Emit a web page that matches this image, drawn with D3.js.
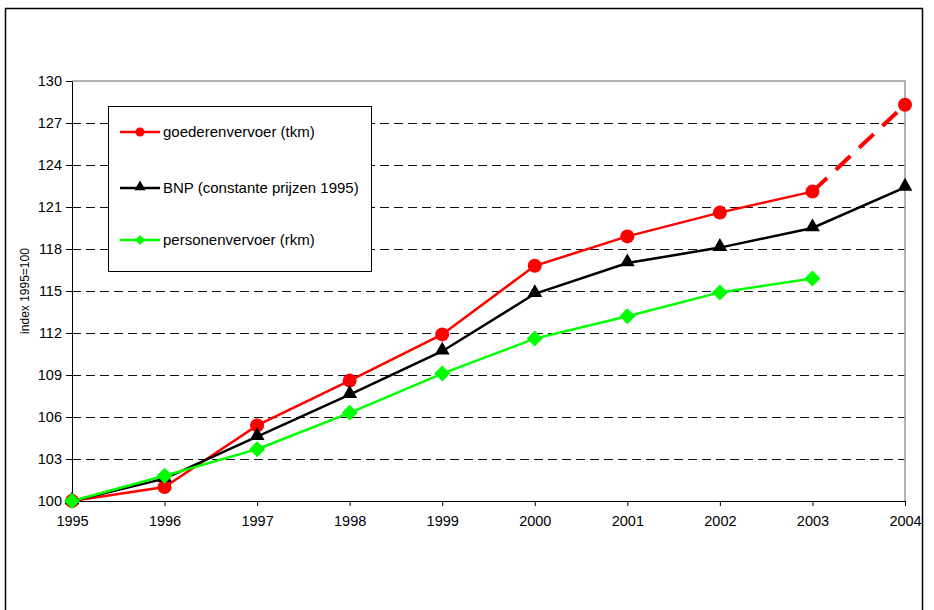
<!DOCTYPE html>
<html>
<head>
<meta charset="utf-8">
<script src="https://cdn.jsdelivr.net/npm/d3@7"></script>
<style>
body{margin:0;background:#fff;}
text{font-family:"Liberation Sans",Arial,sans-serif;}
</style>
</head>
<body>
<div id="chart"></div>
<script>

const years=[1995,1996,1997,1998,1999,2000,2001,2002,2003,2004];
const yTicks=[100,103,106,109,112,115,118,121,124,127,130];

const goederen=[100,101.0,105.4,108.6,111.9,116.8,118.9,120.6,122.1,128.3];
const bnp=[100,101.6,104.6,107.6,110.7,114.8,117.0,118.1,119.5,122.4];
const personen=[100,101.8,103.7,106.3,109.1,111.6,113.2,114.9,115.9];

const labels=["goederenvervoer (tkm)","BNP (constante prijzen 1995)","personenvervoer (rkm)"];

const W=934,H=610;
const plotLeft=72,plotRight=905,plotTop=81,plotBottom=501;

const svg=d3.select("#chart")
    .append("svg")
    .attr("width",W)
    .attr("height",H);

// outer frame
svg.append("rect")
    .attr("x",5.5)
    .attr("y",8.5)
    .attr("width",917)
    .attr("height",H)
    .attr("fill","white")
    .attr("stroke","black")
    .attr("stroke-width",1.5);

const x=d3.scaleLinear().domain([1995,2004]).range([plotLeft,plotRight]);
const y=d3.scaleLinear().domain([100,130]).range([plotBottom,plotTop]);

// grid
svg.selectAll(".grid")
    .data(yTicks.filter(d=>d>100&&d<130))
    .enter()
    .append("line")
    .attr("class","grid")
    .attr("x1",plotLeft)
    .attr("x2",plotRight)
    .attr("y1",d=>Math.round(y(d))+0.5)
    .attr("y2",d=>Math.round(y(d))+0.5)
    .attr("stroke","#111")
    .attr("stroke-dasharray","9,5");

// plot area top and right border
svg.append("path")
    .attr("d",`M${plotLeft},${y(130)}H${plotRight}V${plotBottom}`)
    .attr("fill","none")
    .attr("stroke","#999")
    .attr("stroke-width",1.5);

// axes
const yAxis=d3.axisLeft(y).tickValues(yTicks).tickSize(6).tickSizeOuter(0);
const gy=svg.append("g").attr("transform",`translate(${plotLeft},0)`).call(yAxis);
gy.select(".domain").attr("stroke","black");
gy.selectAll("text").attr("font-size",14.5).attr("fill","black").attr("x",-10);

const xAxis=d3.axisBottom(x).tickValues(years).tickFormat(d3.format("d")).tickSize(5).tickSizeOuter(0);
const gx=svg.append("g").attr("transform",`translate(0,${plotBottom})`).call(xAxis);
gx.select(".domain").attr("stroke","black");
gx.selectAll("text").attr("font-size",14.5).attr("fill","black").attr("y",15);

svg.append("text")
    .attr("transform",`translate(29,${(plotTop+plotBottom)/2}) rotate(-90)`)
    .attr("text-anchor","middle")
    .attr("font-size",12)
    .text("index 1995=100");

const line=d3.line().x(d=>x(d[0])).y(d=>y(d[1]));

const redPts=goederen.map((v,i)=>[years[i],v]);
const blackPts=bnp.map((v,i)=>[years[i],v]);
const greenPts=personen.map((v,i)=>[years[i],v]);

// red: solid until 2003, dashed to 2004
svg.append("path")
    .attr("d",line(redPts.slice(0,9)))
    .attr("fill","none")
    .attr("stroke","#ff0000")
    .attr("stroke-width",2.5);
svg.append("path")
    .attr("d",line(redPts.slice(8)))
    .attr("fill","none")
    .attr("stroke","#ff0000")
    .attr("stroke-width",4)
    .attr("stroke-dasharray","20,12");

svg.append("path")
    .attr("d",line(blackPts))
    .attr("fill","none")
    .attr("stroke","black")
    .attr("stroke-width",2.5);

svg.append("path")
    .attr("d",line(greenPts))
    .attr("fill","none")
    .attr("stroke","#00ff00")
    .attr("stroke-width",2.5);

const tri=d3.symbol().type(d3.symbolTriangle).size(95);
const dia="M0,-8L8,0L0,8L-8,0Z";

svg.selectAll(".redDot")
    .data(redPts)
    .enter()
    .append("circle")
    .attr("cx",d=>x(d[0]))
    .attr("cy",d=>y(d[1]))
    .attr("r",7)
    .attr("fill","#ff0000");

svg.selectAll(".blackTri")
    .data(blackPts)
    .enter()
    .append("path")
    .attr("d",tri)
    .attr("transform",d=>`translate(${x(d[0])},${y(d[1])-1})`)
    .attr("fill","black");

svg.selectAll(".greenDia")
    .data(greenPts)
    .enter()
    .append("path")
    .attr("d",dia)
    .attr("transform",d=>`translate(${x(d[0])},${y(d[1])})`)
    .attr("fill","#00ff00");

// legend
const lg=svg.append("g");
lg.append("rect")
    .attr("x",108.5)
    .attr("y",106.5)
    .attr("width",263)
    .attr("height",165)
    .attr("fill","white")
    .attr("stroke","black");

const legendColors=["#ff0000","black","#00ff00"];
const legendY=[132,188,240];

labels.forEach((t,i)=>{
    const g=lg.append("g").attr("transform",`translate(0,${legendY[i]})`);
    g.append("line")
        .attr("x1",120).attr("x2",160)
        .attr("stroke",legendColors[i])
        .attr("stroke-width",2.5);
    if(i===0) g.append("circle").attr("cx",140).attr("r",4.5).attr("fill",legendColors[i]);
    if(i===1) g.append("path").attr("d",d3.symbol().type(d3.symbolTriangle).size(55)).attr("transform","translate(140,-1)").attr("fill","black");
    if(i===2) g.append("path").attr("d","M0,-5L5,0L0,5L-5,0Z").attr("transform","translate(140,0)").attr("fill",legendColors[i]);
    g.append("text")
        .attr("x",163)
        .attr("dy","0.35em")
        .attr("font-size",15)
        .text(t);
});

</script>
</body>
</html>
